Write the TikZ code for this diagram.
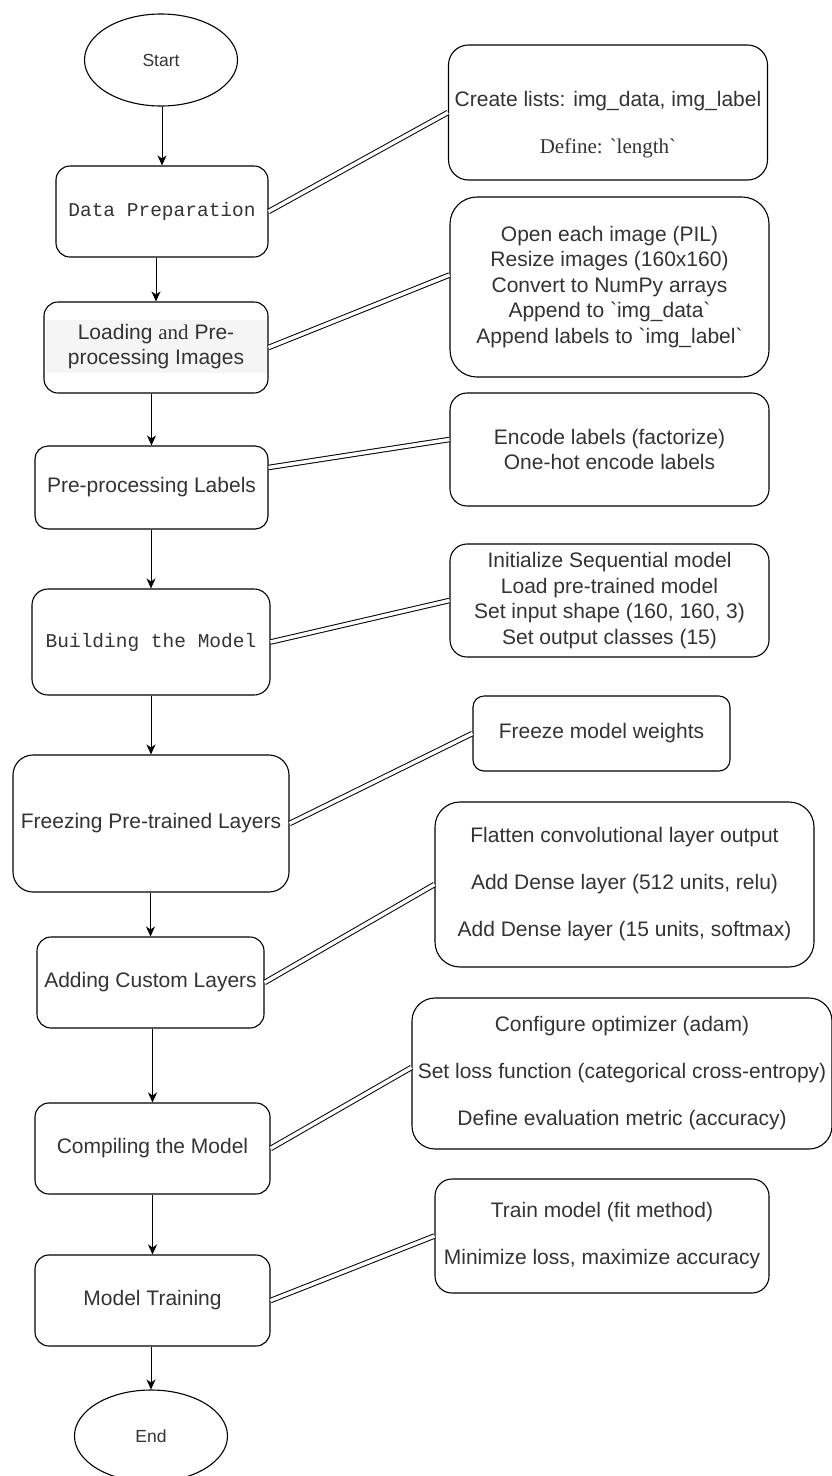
\documentclass[tikz,border=0pt]{standalone}
\usepackage{fontspec}
\setmainfont{Liberation Sans}[Ligatures=TeXOff]
\newfontfamily\monofont{Liberation Mono}
\newfontfamily\seriffont{Liberation Serif}[Ligatures=TeXOff]
\usetikzlibrary{shapes.geometric,arrows.meta}

\begin{document}
\begin{tikzpicture}[x=1pt,y=-1pt,
  stepbox/.style={draw, line width=1.1pt, align=center, inner sep=0pt, text=black!80, font=\fontsize{21}{25.5}\selectfont},
  term/.style={draw, ellipse, line width=1.1pt, minimum width=153pt, minimum height=92pt, inner sep=0pt, text=black!80, font=\fontsize{17.5}{21}\selectfont},
  flow/.style={-{Stealth[length=10pt,width=9pt,inset=3pt]}, line width=1pt},
  link/.style={double, double distance=3.5pt, line width=1pt}]
\useasboundingbox (0,0) rectangle (831,1476);

\node[term] (start) at (161,60) {Start};
\node[stepbox, rounded corners=14pt, minimum width=212pt, minimum height=91pt, font=\monofont\fontsize{19.5}{24}\selectfont] (prep) at (162,211.5) {Data Preparation};
\node[stepbox, rounded corners=14pt, minimum width=224pt, minimum height=91pt] (load) at (156,347.5) {};
\node[stepbox, draw=none, rounded corners=0pt, fill=black!4, minimum width=221pt, minimum height=53pt] (loadtext) at (156,346.5) {Loading {\seriffont and} Pre-\\processing Images};
\node[stepbox, rounded corners=13pt, minimum width=233pt, minimum height=83pt] (labels) at (151.5,487.5) {Pre-processing Labels};
\node[stepbox, rounded corners=16pt, minimum width=238pt, minimum height=106pt, font=\monofont\fontsize{19.5}{24}\selectfont] (build) at (151,642) {Building the Model};
\node[stepbox, rounded corners=20pt, minimum width=276pt, minimum height=137pt] (freeze) at (151,823.5) {Freezing Pre-trained Layers};
\node[stepbox, rounded corners=14pt, minimum width=227pt, minimum height=91pt] (custom) at (150.5,982.5) {Adding Custom Layers};
\node[stepbox, rounded corners=14pt, minimum width=235pt, minimum height=91pt] (compile) at (152.5,1148.5) {Compiling the Model};
\node[stepbox, rounded corners=14pt, minimum width=235pt, minimum height=91pt] (train) at (152.5,1300.5) {Model Training};
\node[term] (end) at (151,1436) {End};

\node[stepbox, rounded corners=20pt, minimum width=319pt, minimum height=135pt] (lists) at (608,112.5) {};
\node[stepbox, draw=none] (liststext) at (608,125) {Create lists: img\_data, img\_label\\[21.5pt]{\seriffont Define: `length`}};
\node[stepbox, rounded corners=27pt, minimum width=319pt, minimum height=180pt] (images) at (609.5,287) {Open each image (PIL)\\Resize images (160x160)\\Convert to NumPy arrays\\Append to `img\_data`\\Append labels to `img\_label`};
\node[stepbox, rounded corners=17pt, minimum width=319pt, minimum height=113pt] (encode) at (609.5,449.5) {Encode labels (factorize)\\One-hot encode labels};
\node[stepbox, rounded corners=17pt, minimum width=319pt, minimum height=113pt] (model) at (609.5,600.5) {Initialize Sequential model\\Load pre-trained model\\Set input shape (160, 160, 3)\\Set output classes (15)};
\node[stepbox, rounded corners=11pt, minimum width=257pt, minimum height=75pt] (weights) at (601.5,733.5) {Freeze model weights};
\node[stepbox, rounded corners=25pt, minimum width=379pt, minimum height=165pt] (dense) at (624.5,884.5) {Flatten convolutional layer output\\[21.5pt]Add Dense layer (512 units, relu)\\[21.5pt]Add Dense layer (15 units, softmax)};
\node[stepbox, rounded corners=23pt, minimum width=420pt, minimum height=151pt] (optim) at (622,1073.5) {Configure optimizer (adam)\\[21.5pt]Set loss function (categorical cross-entropy)\\[21.5pt]Define evaluation metric (accuracy)};
\node[stepbox, rounded corners=17pt, minimum width=334pt, minimum height=114pt] (fit) at (602,1236) {Train model (fit method)\\[21.5pt]Minimize loss, maximize accuracy};

\draw[flow] (prep.north |- start.south) -- (prep.north);
\draw[flow] (load.north |- prep.south) -- (load.north);
\draw[flow] (labels.north |- load.south) -- (labels.north);
\draw[flow] (build.north |- labels.south) -- (build.north);
\draw[flow] (freeze.north |- build.south) -- (freeze.north);
\draw[flow] (custom.north |- freeze.south) -- (custom.north);
\draw[flow] (compile.north |- custom.south) -- (compile.north);
\draw[flow] (train.north |- compile.south) -- (train.north);
\draw[flow] (end.north |- train.south) -- (end.north);

\draw[link] (prep.east) -- (lists.west);
\draw[link] (load.east) -- ([yshift=12pt]images.west);
\draw[link] ([yshift=20pt]labels.east) -- ([yshift=10pt]encode.west);
\draw[link] (build.east) -- (model.west);
\draw[link] (freeze.east) -- (weights.west);
\draw[link] (custom.east) -- (dense.west);
\draw[link] (compile.east) -- ([yshift=6pt]optim.west);
\draw[link] (train.east) -- (fit.west);
\end{tikzpicture}
\end{document}
